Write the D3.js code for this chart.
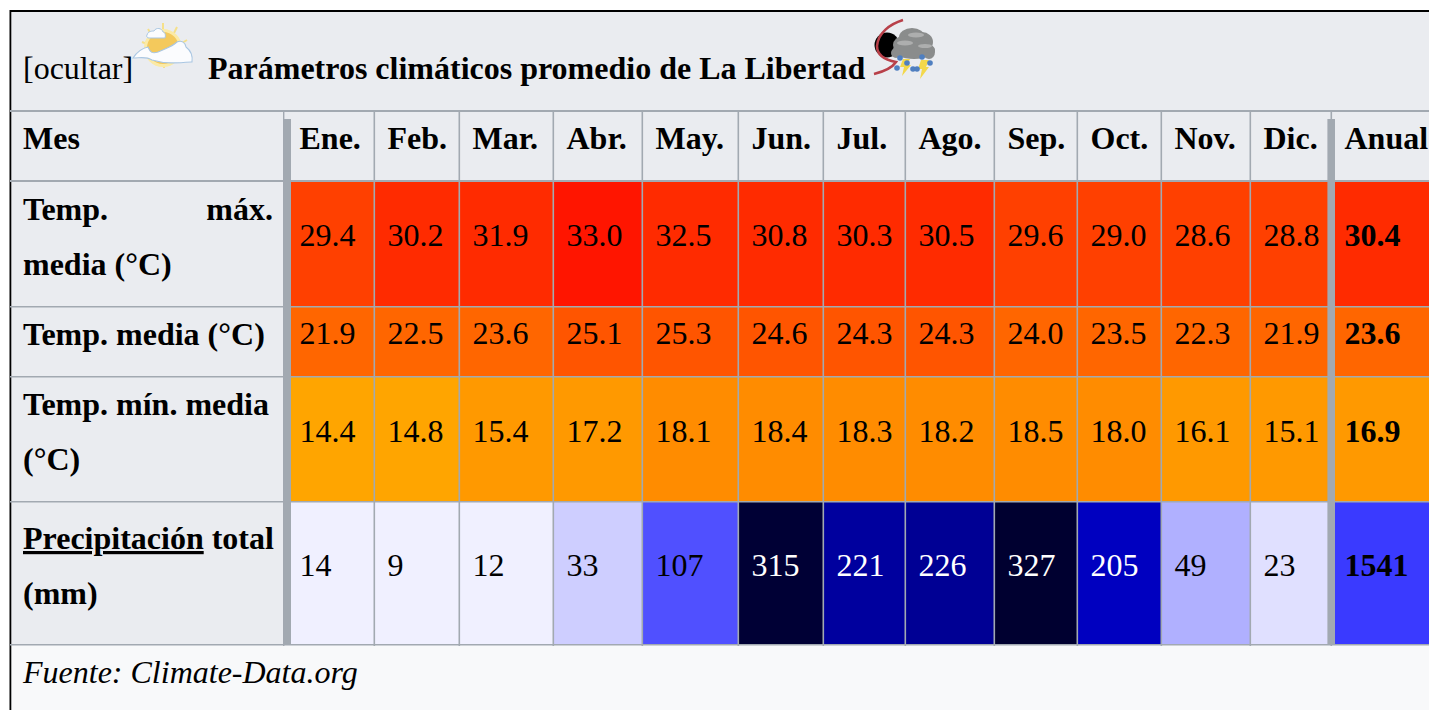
<!DOCTYPE html>
<html><head><meta charset="utf-8">
<style>html,body{margin:0;padding:0;background:#fff;overflow:hidden}svg{display:block}text{font-family:"Liberation Serif",serif;fill:#000}</style>
<script src="https://cdn.jsdelivr.net/npm/d3@7/dist/d3.min.js"></script>
</head><body><svg id="c" width="1429" height="710"></svg>
<script>
const months=["Ene.","Feb.","Mar.","Abr.","May.","Jun.","Jul.","Ago.","Sep.","Oct.","Nov.","Dic."];
const annualLabel="Anual";
const tempMax=[29.4,30.2,31.9,33.0,32.5,30.8,30.3,30.5,29.6,29.0,28.6,28.8];
const tempMean=[21.9,22.5,23.6,25.1,25.3,24.6,24.3,24.3,24.0,23.5,22.3,21.9];
const tempMin=[14.4,14.8,15.4,17.2,18.1,18.4,18.3,18.2,18.5,18.0,16.1,15.1];
const precip=[14,9,12,33,107,315,221,226,327,205,49,23];
const annualMax=30.4, annualMean=23.6, annualMin=16.9, annualPrecip=1541;

const svg=d3.select("#c");
const G1="#a2a9b1", TH="#eaecf0", FOOT="#f8f9fa";
const cols=[...months,annualLabel];
const colEdges=[287,375,460,554,643,739,824,906,995,1078,1162,1251,1332,1429];
const rowKeys=["title","head","max","mean","min","prec","foot"];
const rowEdges=[12,111,181,307,377,502,645,710];
const X=d3.scaleOrdinal().domain(cols).range(colEdges.slice(0,-1));
const XE=d3.scaleOrdinal().domain(cols).range(colEdges.slice(1));
const Y=d3.scaleOrdinal().domain(rowKeys).range(rowEdges.slice(0,-1));
const YE=d3.scaleOrdinal().domain(rowKeys).range(rowEdges.slice(1));

const tempColor=d3.scaleThreshold().domain([15,18,20,24.1,26,29.8,33]).range(["#ffa500","#ff9900","#ff8c00","#ff6600","#ff5500","#ff4000","#ff2b00","#ff1500"]);
const precipColor=d3.scaleLinear().domain([14,33,49,107,128,205,225,320]).range(["#f0f0ff","#ceceff","#b0b0ff","#5050ff","#3a3aff","#0000c0","#000095","#000030"]).clamp(true);
const rows=[
 {k:"max",vals:tempMax,a:annualMax,c:tempColor,f:d3.format(".1f"),ty:246},
 {k:"mean",vals:tempMean,a:annualMean,c:tempColor,f:d3.format(".1f"),ty:344},
 {k:"min",vals:tempMin,a:annualMin,c:tempColor,f:d3.format(".1f"),ty:442},
 {k:"prec",vals:precip,a:annualPrecip/12,av:annualPrecip,c:precipColor,f:d3.format("d"),ty:576}
];
const FS=32, PAD=12.5;
svg.append("rect").attr("x",10).attr("y",12).attr("width",1419).attr("height",633).attr("fill",TH);
svg.append("rect").attr("x",10).attr("y",645).attr("width",1419).attr("height",65).attr("fill",FOOT);
svg.append("line").attr("x1",10).attr("x2",1429).attr("y1",11).attr("y2",11).attr("stroke","#000").attr("stroke-width",2);
svg.append("line").attr("x1",10.4).attr("x2",10.4).attr("y1",10).attr("y2",710).attr("stroke","#000").attr("stroke-width",1.8);
rows.forEach(r=>{
 const cells=months.map((m,i)=>({m,fillV:r.vals[i],txt:r.f(r.vals[i])}));
 cells.push({m:annualLabel,fillV:r.a,txt:r.f(r.av??r.a),bold:true});
 svg.append("g").selectAll("rect").data(cells).join("rect")
  .attr("x",d=>X(d.m)).attr("y",Y(r.k)).attr("width",d=>XE(d.m)-X(d.m)).attr("height",YE(r.k)-Y(r.k)).attr("fill",d=>r.c(d.fillV));
 svg.append("g").attr("class","vals").selectAll("text").data(cells).join("text")
  .attr("x",d=>X(d.m)+PAD).attr("y",r.ty).attr("font-size",FS).attr("font-weight",d=>d.bold?"bold":null)
  .style("fill",d=>r.k==="prec"&&d.fillV>150?"#fff":"#000").text(d=>d.txt);
});
const grid=svg.append("g").attr("stroke",G1);
[[111,2],[181,2],[306.7,1.4],[376.7,1.4],[501.7,1.4],[644.7,1.4]].forEach(([y,w])=>grid.append("line").attr("x1",10).attr("x2",1429).attr("y1",y).attr("y2",y).attr("stroke-width",w));
colEdges.slice(1,-1).forEach(x=>grid.append("line").attr("x1",x-.7).attr("x2",x-.7).attr("y1",111).attr("y2",646).attr("stroke-width",1.6));
grid.append("line").attr("x1",283.7).attr("x2",283.7).attr("y1",111).attr("y2",646).attr("stroke-width",1.4);
[[287.2,7.6],[1331.2,7.6]].forEach(([x,w])=>grid.append("line").attr("x1",x).attr("x2",x).attr("y1",119).attr("y2",645).attr("stroke-width",w));
const head=svg.append("g").attr("font-size",FS).attr("font-weight","bold");
head.append("text").attr("x",23).attr("y",149).text("Mes");
head.selectAll("text.h").data(cols).join("text").attr("class","h").attr("x",d=>X(d)+PAD).attr("y",149).text(d=>d);
const lab=(t,x,y,a)=>svg.append("text").attr("x",x).attr("y",y).attr("font-size",FS).attr("font-weight","bold").attr("text-anchor",a||"start").text(t);
lab("Temp.",23,220);lab("máx.",273,220,"end");lab("media (°C)",23,275);
lab("Temp. media (°C)",23,345);
lab("Temp. mín. media",23,415);lab("(°C)",23,470);
svg.append("text").attr("x",23).attr("y",549).attr("font-size",FS).attr("font-weight","bold").html('<tspan text-decoration="underline">Precipitación</tspan> total');
lab("(mm)",23,604);
svg.append("text").attr("x",23).attr("y",79).attr("font-size",FS).text("[ocultar]");
svg.append("text").attr("x",208).attr("y",79).attr("font-size",FS).attr("font-weight","bold").text("Parámetros climáticos promedio de La Libertad");
svg.append("text").attr("x",23).attr("y",683).attr("font-size",FS).attr("font-style","italic").text("Fuente: Climate-Data.org");
// icons
const defs=svg.append("defs");
defs.append("filter").attr("id","b").attr("x","-20%").attr("y","-20%").attr("width","140%").attr("height","140%").append("feGaussianBlur").attr("stdDeviation",.7);
const sun=svg.append("g").attr("filter","url(#b)");
[[163,23,163,30],[177,27,174,33],[148,29,151,34],[187,40,182,43],[142,42,147,44],[164,68,164,63]].forEach(([a,b,c,d])=>sun.append("line").attr("x1",a).attr("y1",b).attr("x2",c).attr("y2",d).attr("stroke","#f5e08a").attr("stroke-width",2));
sun.append("circle").attr("cx",163).attr("cy",48).attr("r",17.5).attr("fill","#f4c95c").attr("stroke","#fbeaa6").attr("stroke-width",3);
const swoosh="M133 58 C137 52 143 48 148 47 C150 52 152 54 158 52 C164 49 172 47 177 42 C181 40 185 42 186 47 C190 50 193 55 192 62 C178 63 165 64 152 60 C146 56 140 58 133 58 Z";
sun.append("path").attr("d",swoosh).attr("fill","#fbfcfe").attr("stroke","#a9c6e2").attr("stroke-width",1.1);
sun.append("path").attr("d","M147 35 C148 31 152 31 154 31 C156 27 162 28 163 32 C165 32 166 35 165 38 L149 38 C147 38 146 36 147 35 Z").attr("fill","#fbfcfe").attr("stroke","#a9c6e2").attr("stroke-width",1);
const st=svg.append("g").attr("filter","url(#b)");
st.append("circle").attr("cx",887).attr("cy",45).attr("r",12.5).attr("fill","#000");
st.append("path").attr("d","M903 20 C890 24 878 33 877 46 C877 56 885 60 896 62 C892 68 882 72 874 74").attr("fill","none").attr("stroke","#b8404a").attr("stroke-width",2.6);
[[912,37,13,9],[903,45,10,9],[922,42,11,10],[914,50,21,9],[929,52,6,7],[896,53,5,5]].forEach(([x,y,rx,ry])=>st.append("ellipse").attr("cx",x).attr("cy",y).attr("rx",rx).attr("ry",ry).attr("fill","#8a8c8c"));
[[905,43,8,2.5],[916,35,8,2.5],[925,46,7,2]].forEach(([x,y,rx,ry])=>st.append("ellipse").attr("cx",x).attr("cy",y).attr("rx",rx).attr("ry",ry).attr("fill","#adaeae"));
st.append("path").attr("d","M903 59 L910 59 L907 65 L911 65 L902 76 L904 67 L900 67 Z M921 60 L929 60 L926 67 L929 67 L920 79 L922 69 L918 69 Z").attr("fill","#f3d84c");
[[900,58],[897,68],[907,63],[913,69],[922,57],[917,69],[930,63]].forEach(([x,y])=>st.append("circle").attr("cx",x).attr("cy",y).attr("r",2.8).attr("fill","#4f7fc0"));
</script></body></html>
